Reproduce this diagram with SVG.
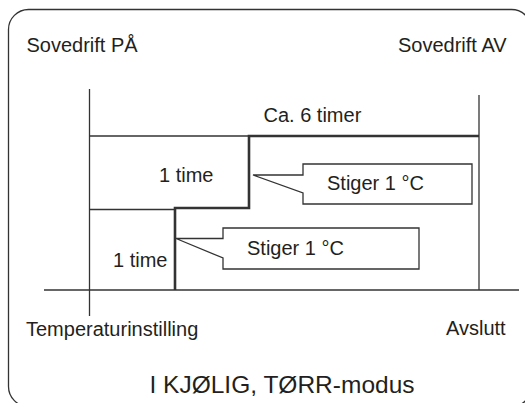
<svg xmlns="http://www.w3.org/2000/svg" width="525" height="403" viewBox="0 0 525 403">
<style>
.t{font-family:"Liberation Sans",Arial,sans-serif;font-size:20px;fill:#231f20}
.big{font-size:24.5px}
.thin{stroke:#333;stroke-width:1.3;fill:none}
.thick{stroke:#333;stroke-width:2.6;fill:none}
.co{stroke:#333;stroke-width:1.3;fill:#fff}
</style>
<rect width="525" height="403" fill="#fff"/>
<rect id="frame" x="8.5" y="9.5" width="523" height="397" rx="20" ry="20" fill="none" stroke="#333" stroke-width="1.3"/>
<g id="connectors">
<line class="thin" x1="89.5" y1="89" x2="89.5" y2="316"/>
<line class="thin" x1="479" y1="95" x2="479" y2="290"/>
<line class="thin" x1="89.5" y1="136" x2="249" y2="136"/>
<line class="thin" x1="89.5" y1="209.5" x2="175" y2="209.5"/>
<line class="thin" x1="44" y1="290" x2="519" y2="290"/>
<path class="thick" d="M479,136 H249 V208 H175 V290"/>
</g>
<g id="label-on"><text class="t" x="26.5" y="52">Sovedrift PÅ</text></g>
<g id="label-off"><text class="t" x="398" y="52">Sovedrift AV</text></g>
<g id="label-6h"><text class="t" x="263.5" y="122">Ca. 6 timer</text></g>
<g id="label-1h-upper"><text class="t" x="159" y="182">1 time</text></g>
<g id="label-1h-lower"><text class="t" x="113" y="267">1 time</text></g>
<g id="callout-upper">
<path class="co" d="M303,164 H472 V204 H303 V193 L253,175 H303 Z"/>
<text class="t" x="327" y="190">Stiger 1 °C</text>
</g>
<g id="callout-lower">
<path class="co" d="M223,228 H419 V269 H223 V258 L176,238.5 H223 Z"/>
<text class="t" x="247" y="255">Stiger 1 °C</text>
</g>
<g id="label-temp"><text class="t" x="26" y="336">Temperaturinstilling</text></g>
<g id="label-end"><text class="t" x="446" y="335">Avslutt</text></g>
<g id="label-mode"><text class="t big" x="282" y="392.5" text-anchor="middle">I KJØLIG, TØRR-modus</text></g>
</svg>
